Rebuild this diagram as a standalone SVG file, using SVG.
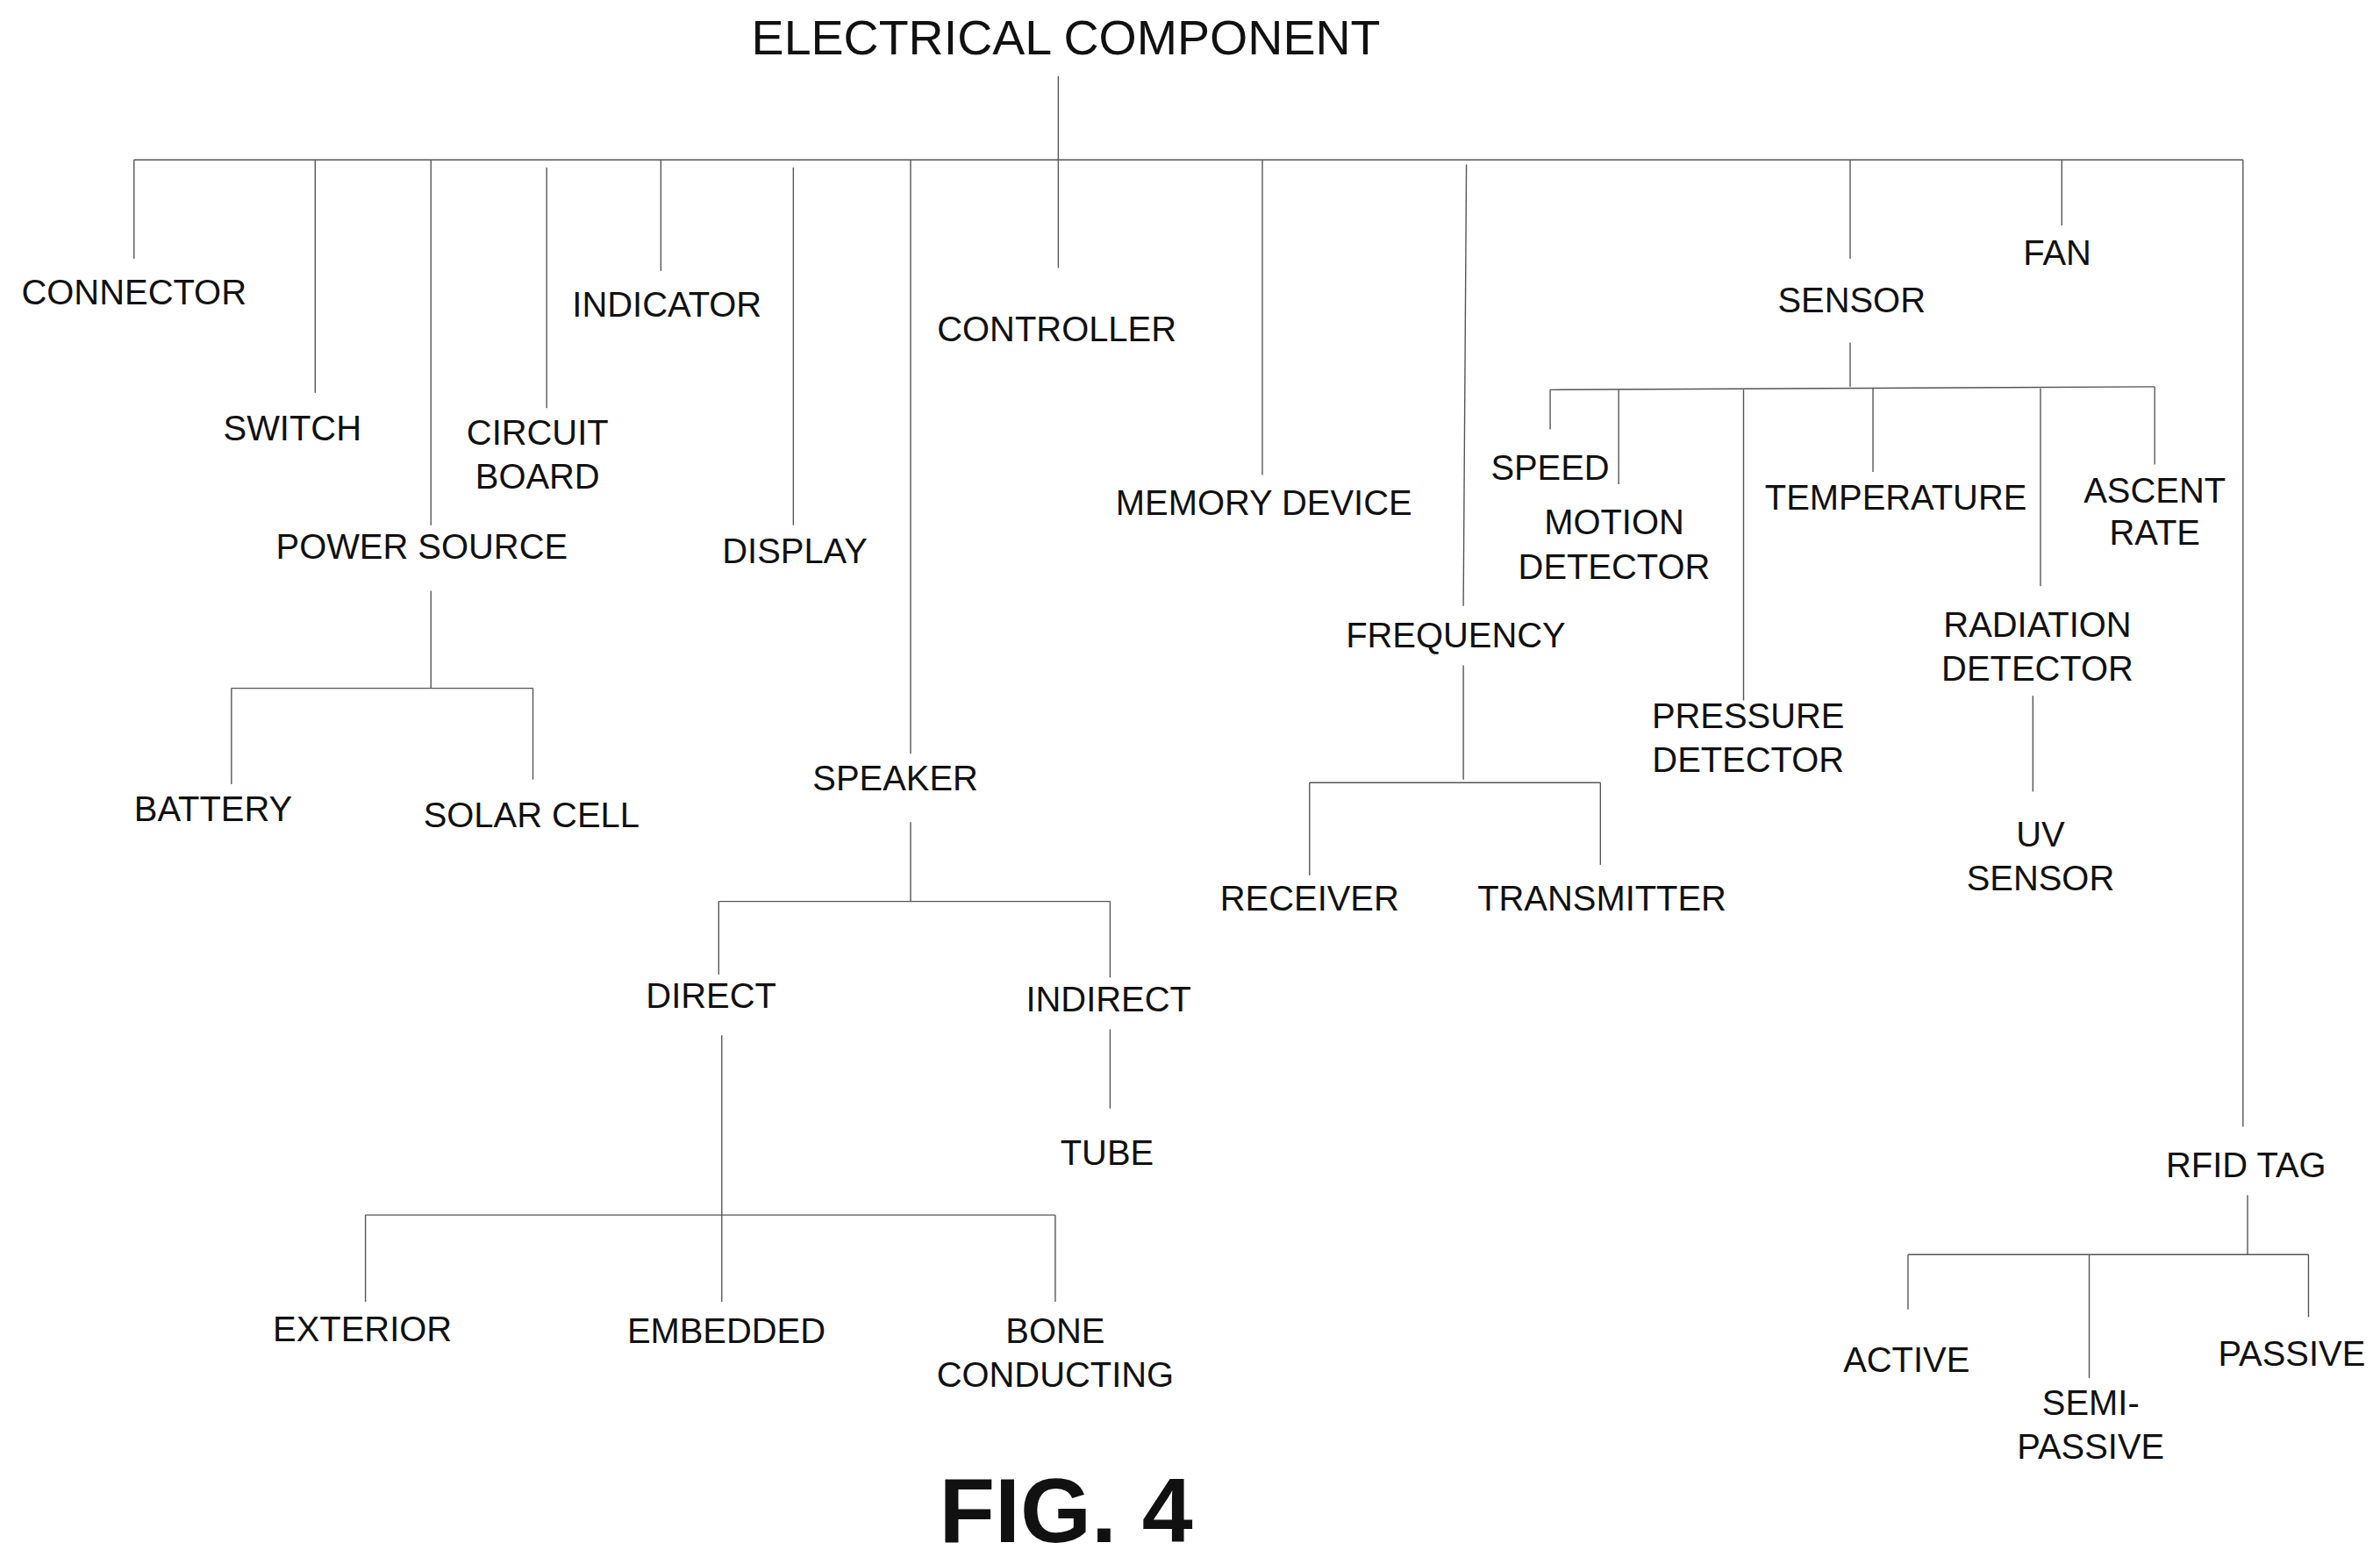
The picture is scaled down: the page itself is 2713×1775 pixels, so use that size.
<svg xmlns="http://www.w3.org/2000/svg" width="2713" height="1775" viewBox="0 0 2713 1775">
<style>
text{font-family:"Liberation Sans",Arial,sans-serif;font-size:23px;fill:#111;text-anchor:middle}
.t{font-size:32px}
.f{font-size:60px;font-weight:bold}
line{stroke:#555;stroke-width:0.8}
</style>
<rect width="2713" height="1775" fill="#fff"/>
<g transform="scale(1.7358)">
<g id="connectors">
<line x1="695" y1="50" x2="695" y2="105"/>
<line x1="88" y1="105" x2="1473" y2="105"/>
<line x1="88" y1="105" x2="88" y2="170"/>
<line x1="207" y1="105" x2="207" y2="258"/>
<line x1="283" y1="105" x2="283" y2="345"/>
<line x1="283" y1="388" x2="283" y2="452"/>
<line x1="152" y1="452" x2="350" y2="452"/>
<line x1="152" y1="452" x2="152" y2="515"/>
<line x1="350" y1="452" x2="350" y2="512"/>
<line x1="359" y1="110" x2="359" y2="268"/>
<line x1="434" y1="105" x2="434" y2="178"/>
<line x1="521" y1="110" x2="521" y2="345"/>
<line x1="598" y1="105" x2="598" y2="495"/>
<line x1="598" y1="540" x2="598" y2="592"/>
<line x1="472" y1="592" x2="729" y2="592"/>
<line x1="472" y1="592" x2="472" y2="640"/>
<line x1="729" y1="592" x2="729" y2="642"/>
<line x1="729" y1="676" x2="729" y2="728"/>
<line x1="474" y1="680" x2="474" y2="855"/>
<line x1="240" y1="798" x2="693" y2="798"/>
<line x1="240" y1="798" x2="240" y2="855"/>
<line x1="693" y1="798" x2="693" y2="855"/>
<line x1="695" y1="105" x2="695" y2="176"/>
<line x1="829" y1="105" x2="829" y2="312"/>
<line x1="963" y1="108" x2="961" y2="398"/>
<line x1="961" y1="437" x2="961" y2="512"/>
<line x1="860" y1="514" x2="1051" y2="514"/>
<line x1="860" y1="514" x2="860" y2="575"/>
<line x1="1051" y1="514" x2="1051" y2="568"/>
<line x1="1215" y1="105" x2="1215" y2="170"/>
<line x1="1215" y1="225" x2="1215" y2="254"/>
<line x1="1018" y1="256" x2="1415" y2="254"/>
<line x1="1018" y1="256" x2="1018" y2="282"/>
<line x1="1063" y1="256" x2="1063" y2="318"/>
<line x1="1145" y1="256" x2="1145" y2="460"/>
<line x1="1230" y1="255" x2="1230" y2="310"/>
<line x1="1340" y1="255" x2="1340" y2="385"/>
<line x1="1335" y1="457" x2="1335" y2="520"/>
<line x1="1415" y1="254" x2="1415" y2="305"/>
<line x1="1354" y1="105" x2="1354" y2="148"/>
<line x1="1473" y1="105" x2="1473" y2="740"/>
<line x1="1476" y1="785" x2="1476" y2="824"/>
<line x1="1253" y1="824" x2="1516" y2="824"/>
<line x1="1253" y1="824" x2="1253" y2="860"/>
<line x1="1372" y1="824" x2="1372" y2="905"/>
<line x1="1516" y1="824" x2="1516" y2="865"/>
</g>
<g id="root"><text class="t" x="700" y="36">ELECTRICAL COMPONENT</text></g>
<g id="connector"><text x="88" y="200">CONNECTOR</text></g>
<g id="switch"><text x="192" y="289">SWITCH</text></g>
<g id="power-source"><text x="277" y="367">POWER SOURCE</text></g>
<g id="battery"><text x="140" y="539">BATTERY</text></g>
<g id="solar-cell"><text x="349" y="543">SOLAR CELL</text></g>
<g id="circuit-board"><text x="353" y="292">CIRCUIT</text><text x="353" y="321">BOARD</text></g>
<g id="indicator"><text x="438" y="208">INDICATOR</text></g>
<g id="display"><text x="522" y="370">DISPLAY</text></g>
<g id="speaker"><text x="588" y="519">SPEAKER</text></g>
<g id="direct"><text x="467" y="662">DIRECT</text></g>
<g id="indirect"><text x="728" y="664">INDIRECT</text></g>
<g id="tube"><text x="727" y="765">TUBE</text></g>
<g id="exterior"><text x="238" y="881">EXTERIOR</text></g>
<g id="embedded"><text x="477" y="882">EMBEDDED</text></g>
<g id="bone-conducting"><text x="693" y="882">BONE</text><text x="693" y="911">CONDUCTING</text></g>
<g id="controller"><text x="694" y="224">CONTROLLER</text></g>
<g id="memory-device"><text x="830" y="338">MEMORY DEVICE</text></g>
<g id="frequency"><text x="956" y="425">FREQUENCY</text></g>
<g id="receiver"><text x="860" y="598">RECEIVER</text></g>
<g id="transmitter"><text x="1052" y="598">TRANSMITTER</text></g>
<g id="sensor"><text x="1216" y="205">SENSOR</text></g>
<g id="speed"><text x="1018" y="315">SPEED</text></g>
<g id="motion-detector"><text x="1060" y="351">MOTION</text><text x="1060" y="380">DETECTOR</text></g>
<g id="pressure-detector"><text x="1148" y="478">PRESSURE</text><text x="1148" y="507">DETECTOR</text></g>
<g id="temperature"><text x="1245" y="335">TEMPERATURE</text></g>
<g id="radiation-detector"><text x="1338" y="418">RADIATION</text><text x="1338" y="447">DETECTOR</text></g>
<g id="uv-sensor"><text x="1340" y="556">UV</text><text x="1340" y="585">SENSOR</text></g>
<g id="ascent-rate"><text x="1415" y="330">ASCENT</text><text x="1415" y="358">RATE</text></g>
<g id="fan"><text x="1351" y="174">FAN</text></g>
<g id="rfid-tag"><text x="1475" y="773">RFID TAG</text></g>
<g id="active"><text x="1252" y="901">ACTIVE</text></g>
<g id="semi-passive"><text x="1373" y="929">SEMI-</text><text x="1373" y="958">PASSIVE</text></g>
<g id="passive"><text x="1505" y="897">PASSIVE</text></g>
<g id="fig"><text class="f" x="700" y="1013">FIG. 4</text></g>
</g>
</svg>
